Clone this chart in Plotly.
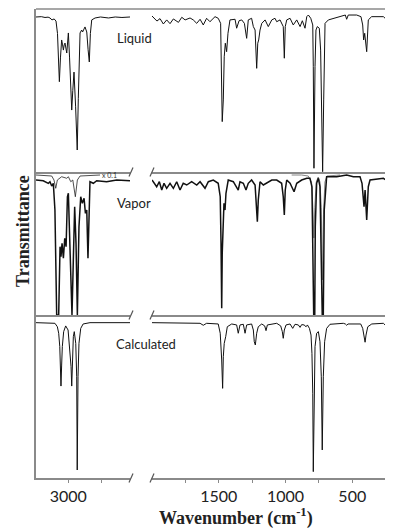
import plotly.graph_objects as go

# ---------------- data (wavenumber in cm-1, transmittance in % of panel) ----------------
left_range = [3240, 2540]
right_range = [2000, 195]
left_tickvals = [3000, 2750]
left_ticktext = ["3000", ""]
right_tickvals = [1750, 1500, 1250, 1000, 750, 500, 250]
right_ticktext = ["", "1500", "", "1000", "", "500", ""]
panel_labels = ["Liquid", "Vapor", "Calculated"]
scale_label = "x 0.1"

liq_l_wn = [3240, 3200, 3173, 3150, 3136, 3121, 3105, 3091, 3080, 3072, 3066, 3058, 3049, 3042, 3036,
            3030, 3024, 3011, 3002, 2999, 2990, 2980, 2974, 2966, 2957, 2945, 2933, 2925, 2918, 2912,
            2900, 2893, 2875, 2862, 2852, 2843, 2835, 2825, 2800, 2760, 2700, 2650, 2600, 2540]
liq_l_t = [95.1, 95.3, 94.8, 95.0, 94.5, 93.3, 93.9, 92.6, 85.0, 68.0, 55.4, 70.0, 81.0, 78.0, 74.8,
           78.0, 79.1, 73.0, 82.0, 85.3, 70.0, 50.0, 38.0, 50.0, 61.3, 40.0, 13.5, 45.0, 75.0, 85.3,
           87.1, 85.9, 89.0, 85.9, 75.0, 67.5, 85.0, 93.3, 94.5, 95.1, 94.5, 95.1, 94.8, 95.1]

liq_r_wn = [2000, 1963, 1940, 1915, 1890, 1865, 1840, 1802, 1777, 1752, 1715, 1691, 1665, 1640, 1616,
            1591, 1566, 1528, 1504, 1486, 1474, 1466, 1459, 1451, 1441, 1431, 1416, 1378, 1366, 1348,
            1328, 1308, 1291, 1279, 1254, 1241, 1228, 1216, 1208, 1201, 1191, 1178, 1153, 1129, 1103,
            1079, 1066, 1041, 1017, 1009, 1002, 991, 966, 942, 916, 891, 874, 854, 841, 829,
            811, 796, 792, 787, 779, 772, 762, 747, 737, 729, 722, 714, 704, 679, 642,
            592, 552, 542, 530, 467, 435, 422, 415, 407, 392, 380, 355, 267, 241, 224, 209, 194]
liq_r_t = [95.7, 92.6, 94.1, 90.8, 93.3, 91.0, 93.9, 91.8, 94.9, 93.3, 94.5, 93.3, 91.2, 93.7, 90.2,
           94.3, 92.2, 95.3, 94.3, 91.2, 30.9, 44.2, 70.7, 79.0, 73.8, 85.1, 93.3, 93.7, 88.2, 92.8,
           93.3, 91.2, 82.0, 93.3, 94.3, 89.2, 87.1, 63.6, 79.0, 81.0, 87.1, 91.2, 93.3, 89.2, 93.3,
           94.3, 92.2, 93.3, 89.2, 69.8, 89.2, 93.3, 94.3, 90.2, 93.3, 89.2, 92.8, 88.2, 95.3, 96.3,
           94.3, 90.2, 64.6, 2.3, 64.6, 87.1, 89.2, 88.2, 74.8, 33.9, 0.2, 44.2, 91.2, 93.3, 94.3,
           95.3, 96.3, 93.7, 96.3, 96.3, 95.3, 90.2, 81.0, 85.1, 73.8, 93.3, 95.3, 95.3, 93.3, 75.9, 93.3, 94.3]

vap_l_wn = [3240, 3186, 3148, 3136, 3123, 3111, 3099, 3086, 3071, 3061, 3054, 3046, 3036, 3026, 3016,
            3006, 2999, 2992, 2979, 2972, 2962, 2952, 2942, 2932, 2920, 2907, 2895, 2882, 2872, 2862,
            2853, 2845, 2838, 2813, 2788, 2714, 2639, 2540]
vap_l_t = [94.4, 93.9, 92.1, 93.2, 90.2, 92.1, 73.4, 0, 0, 47.8, 40.8, 50.1, 39.7, 53.6, 47.8,
           82.7, 85.1, 61.7, 5.8, 0, 38.5, 75.7, 50.1, 0, 61.7, 82.7, 78.1, 81.6, 71.1, 73.4,
           39.7, 80.4, 93.2, 92.1, 93.9, 93.2, 94.4, 93.9]

vap01_l_wn = [3240, 3123, 3106, 3093, 3081, 3049, 3011, 2999, 2981, 2966, 2947, 2932, 2912, 2763]
vap01_l_t = [97.9, 97.2, 94.4, 88.6, 94.4, 96.7, 95.6, 96.7, 93.2, 94.4, 82.7, 94.4, 97.2, 97.9]

vap_r_wn = [2000, 1965, 1945, 1927, 1910, 1890, 1865, 1840, 1815, 1790, 1766, 1740, 1703, 1665, 1640,
            1603, 1578, 1541, 1504, 1489, 1483, 1478, 1474, 1469, 1461, 1453, 1446, 1429, 1391, 1354,
            1341, 1316, 1296, 1279, 1254, 1228, 1219, 1211, 1204, 1191, 1166, 1129, 1103, 1066, 1029,
            1017, 1009, 1002, 991, 966, 936, 916, 879, 841, 817, 802, 794, 789, 781, 777,
            767, 754, 742, 732, 725, 717, 710, 692, 617, 542, 492, 442, 427, 412, 404,
            392, 380, 367, 267, 229, 217, 209, 199]
vap_r_t = [94.4, 89.7, 93.2, 87.4, 92.1, 88.6, 92.1, 88.6, 93.2, 87.4, 92.1, 90.9, 93.2, 90.9, 93.2,
           88.6, 93.2, 94.4, 92.1, 82.7, 50.1, 4.7, 43.1, 61.7, 78.1, 73.4, 85.1, 94.4, 93.2, 87.4,
           93.2, 92.1, 87.4, 92.1, 94.4, 90.9, 80.4, 65.2, 80.4, 93.2, 90.9, 93.2, 94.4, 94.4, 92.1,
           82.7, 69.9, 87.4, 94.4, 92.1, 86.2, 92.1, 94.4, 95.6, 95.6, 89.7, 38.5, 0, 0, 61.7,
           92.1, 95.6, 89.7, 38.5, 0, 0, 73.4, 96.7, 96.7, 97.9, 96.7, 96.7, 92.1, 75.7, 87.4,
           66.4, 89.7, 94.4, 95.6, 93.2, 73.4, 62.9, 85.1]

vap01_r_wn = [954, 880, 830, 805, 795, 788, 781, 770, 755, 742, 732, 724, 716, 705, 690, 592]
vap01_r_t = [97.9, 97.9, 97.2, 93.0, 75.0, 53.8, 75.0, 93.0, 96.5, 93.0, 75.0, 24.5, 70.0, 93.0, 97.2, 97.9]

calc_l_wn = [3240, 3136, 3099, 3081, 3071, 3063, 3059, 3054, 3049, 3044, 3034, 3019, 3001, 2989, 2979,
             2974, 2969, 2962, 2955, 2944, 2937, 2933, 2927, 2920, 2907, 2889, 2838, 2540]
calc_l_t = [95.3, 95.3, 94.9, 92.8, 88.8, 80.6, 69.3, 56.4, 69.3, 80.6, 89.8, 93.3, 90.8, 80.6, 68.3,
            56.4, 70.4, 86.7, 89.8, 82.6, 62.1, 4.9, 62.1, 82.6, 91.8, 94.5, 95.3, 95.3]

calc_r_wn = [2000, 1715, 1640, 1616, 1591, 1504, 1489, 1478, 1471, 1466, 1459, 1448, 1436, 1403, 1366,
             1354, 1341, 1316, 1303, 1291, 1254, 1241, 1234, 1226, 1216, 1204, 1178, 1156, 1146, 1136,
             1066, 1036, 1024, 1017, 1009, 996, 966, 946, 929, 904, 891, 879, 861, 846, 836,
             821, 809, 802, 796, 792, 787, 779, 767, 754, 742, 732, 725, 717, 707, 692,
             667, 567, 552, 542, 532, 437, 422, 412, 404, 397, 384, 354, 267, 241, 229, 217, 207, 194]
calc_r_t = [95.3, 95.3, 94.9, 93.7, 94.9, 94.5, 88.8, 72.4, 55.0, 74.4, 82.6, 86.7, 92.8, 94.5, 93.9,
            88.8, 93.9, 94.3, 88.8, 93.9, 94.5, 90.8, 83.6, 81.6, 88.8, 92.8, 94.5, 93.3, 90.4, 93.9,
            94.9, 93.3, 89.8, 85.7, 90.8, 93.9, 94.5, 91.8, 94.3, 93.9, 92.4, 94.1, 93.9, 92.8, 93.9,
            91.8, 87.7, 76.5, 52.0, 3.9, 52.0, 80.6, 88.8, 89.8, 83.6, 62.1, 17.2, 62.1, 83.6, 91.8,
            94.3, 94.9, 94.5, 93.7, 94.5, 94.5, 91.8, 85.7, 83.3, 87.7, 92.8, 94.5, 94.9, 92.8, 86.7,
            73.4, 86.7, 91.8]

# ---------------- layout geometry ----------------
# The page body has an 8px default margin, so the figure is sized/offset to compensate.
OFF = 8
W, H = 393 - OFF, 528 - OFF
ML, MR, MT = 36 - OFF, 0, 9 - OFF
MB = H - (478 - OFF)
PW, PH = W - ML - MR, H - MT - MB
GRAY = "#8a8a8a"
BLACK = "#111111"

left_dom = [0, 94 / PW]
right_dom = [116 / PW, 1]
row_px = [(9, 172), (172, 315), (315, 478)]  # page-pixel top/bottom of each panel
row_dom = [[(478 - b) / PH, (478 - t) / PH] for t, b in row_px]

fig = go.Figure()


def ax_id(r, c):
    return (2 - r) * 2 + c + 1


def add_line(x, y, r, c, color=BLACK, width=1.0):
    n = ax_id(r, c)
    fig.add_trace(go.Scatter(
        x=x, y=y, mode="lines", line=dict(color=color, width=width),
        xaxis="x" if n == 1 else f"x{n}", yaxis="y" if n == 1 else f"y{n}",
        showlegend=False, hoverinfo="skip"))


add_line(liq_l_wn, liq_l_t, 0, 0)
add_line(liq_r_wn, liq_r_t, 0, 1)
add_line(vap01_l_wn, vap01_l_t, 1, 0, color="#222222", width=0.8)
add_line(vap01_r_wn, vap01_r_t, 1, 1, color="#777777", width=0.9)
add_line(vap_l_wn, vap_l_t, 1, 0, width=1.5)
add_line(vap_r_wn, vap_r_t, 1, 1, width=1.5)
add_line(calc_l_wn, calc_l_t, 2, 0)
add_line(calc_r_wn, calc_r_t, 2, 1)

layout = dict(
    width=W, height=H,
    margin=dict(l=ML, r=MR, t=MT, b=MB, pad=0),
    paper_bgcolor="white", plot_bgcolor="white",
    showlegend=False,
)

for r in range(3):
    for c in range(2):
        n = ax_id(r, c)
        xk = "xaxis" if n == 1 else f"xaxis{n}"
        yk = "yaxis" if n == 1 else f"yaxis{n}"
        xa = dict(
            domain=left_dom if c == 0 else right_dom,
            range=left_range if c == 0 else right_range,
            anchor="y" if n == 1 else f"y{n}",
            showgrid=False, zeroline=False,
            showline=True, linecolor=GRAY, linewidth=1.5,
            fixedrange=True,
        )
        if r == 2:
            xa.update(
                tickmode="array",
                tickvals=left_tickvals if c == 0 else right_tickvals,
                ticktext=left_ticktext if c == 0 else right_ticktext,
                ticks="outside", ticklen=3, tickwidth=1, tickcolor=GRAY,
                tickfont=dict(family="Lato, sans-serif", size=16, color="#222222"),
            )
        else:
            xa.update(showticklabels=False, ticks="")
        ya = dict(
            domain=row_dom[r], range=[0, 100],
            anchor="x" if n == 1 else f"x{n}",
            showgrid=False, zeroline=False, showticklabels=False, ticks="",
            showline=(c == 0), linecolor=GRAY, linewidth=1.5,
            fixedrange=True,
        )
        layout[xk] = xa
        layout[yk] = ya

fig.update_layout(**layout)


def px_x(x):
    return (x - 36) / PW


def px_y(y):
    return (478 - y) / PH


shapes = [dict(type="line", xref="paper", yref="paper", x0=0, x1=1, y0=1, y1=1,
               line=dict(color=GRAY, width=1.5))]
for yy in (172, 315, 478):
    for cx in (131, 152):
        shapes.append(dict(type="line", xref="paper", yref="paper",
                           x0=px_x(cx - 2), x1=px_x(cx + 2),
                           y0=px_y(yy + 4.5), y1=px_y(yy - 4.5),
                           line=dict(color="#555555", width=1.2)))
fig.update_layout(shapes=shapes)

label_font = dict(family="Lato, sans-serif", size=13, color="#222222")
annots = [
    dict(text=panel_labels[0], x=px_x(115), y=px_y(38)),
    dict(text=panel_labels[1], x=px_x(115), y=px_y(203)),
    dict(text=panel_labels[2], x=px_x(114), y=px_y(344)),
]
for a in annots:
    a.update(xref="paper", yref="paper", xanchor="left", yanchor="middle",
             showarrow=False, font=label_font)
annots.append(dict(text=scale_label, x=px_x(100), y=px_y(175), xref="paper", yref="paper",
                   xanchor="left", yanchor="middle", showarrow=False,
                   font=dict(family="Lato, sans-serif", size=7, color="#333333")))
annots.append(dict(text="<b>Wavenumber (cm<sup>-1</sup>)</b>", x=px_x(236), y=px_y(517),
                   xref="paper", yref="paper", xanchor="center", yanchor="middle",
                   showarrow=False,
                   font=dict(family="Liberation Serif, Times New Roman, serif", size=18, color="#222222")))
annots.append(dict(text="<b>Transmittance</b>", x=px_x(23), y=px_y(231), textangle=-90,
                   xref="paper", yref="paper", xanchor="center", yanchor="middle",
                   showarrow=False,
                   font=dict(family="Liberation Serif, Times New Roman, serif", size=18, color="#222222")))
fig.update_layout(annotations=annots)

fig.write_html("out.html")
